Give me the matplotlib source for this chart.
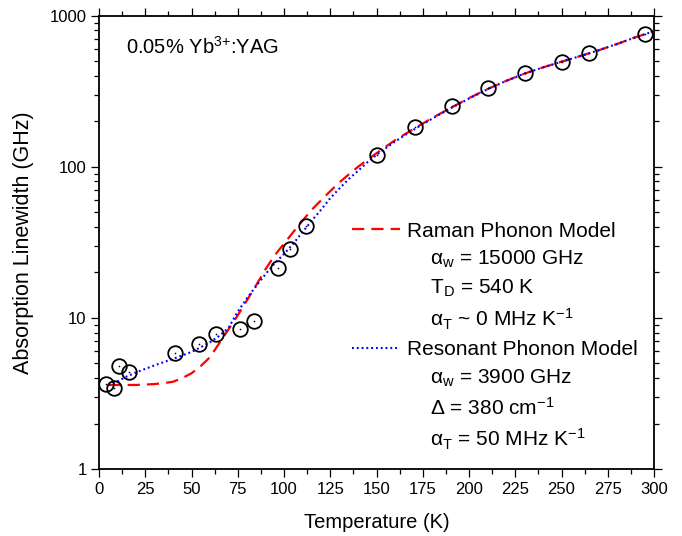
import matplotlib
matplotlib.use("Agg")
import matplotlib.pyplot as plt
from matplotlib.lines import Line2D
from matplotlib.ticker import MultipleLocator, LogLocator, NullFormatter, FixedLocator

plt.rcParams['font.family'] = ['Liberation Sans', 'DejaVu Sans']
plt.rcParams['mathtext.fontset'] = 'custom'
plt.rcParams['mathtext.rm'] = 'Liberation Sans'
plt.rcParams['mathtext.it'] = 'Liberation Sans:italic'
plt.rcParams['mathtext.bf'] = 'Liberation Sans:bold'

# measured data
temp_data = [4, 8, 11, 16, 41, 54, 63, 76, 84, 97, 103, 112, 150, 171, 191, 210, 230, 250, 265, 295]
width_data = [3.64, 3.42, 4.83, 4.40, 5.83, 6.75, 7.86, 8.44, 9.54, 21.3, 28.4, 40.6, 119.7, 182.5,
              252.7, 330, 420, 492, 569, 753]

# model curves
temp_model = [5, 10, 15, 20, 25, 30, 35, 40, 45, 50, 55, 60, 65, 70, 75, 80, 85, 90, 95, 100,
              105, 110, 115, 120, 125, 130, 135, 140, 145, 150, 160, 170, 180, 190, 200, 210,
              220, 230, 240, 250, 260, 270, 280, 290, 300]
raman_model = [3.6, 3.6, 3.6, 3.6, 3.62, 3.65, 3.7, 3.78, 4.0, 4.3, 4.8, 5.5, 6.8, 8.4, 10.4, 13.1,
               16.5, 21, 26, 31, 37, 44, 52, 60, 69, 79, 89, 100, 111, 123, 150, 178, 210, 245,
               285, 327, 370, 414, 455, 496, 540, 590, 650, 720, 790]
resonant_model = [3.6, 3.8, 4.1, 4.35, 4.6, 4.85, 5.1, 5.35, 5.65, 5.95, 6.4, 6.9, 7.6, 8.6, 11.0,
                  13.5, 16.3, 19.5, 23, 26.5, 31, 37, 44, 52, 62, 72, 83, 94, 107, 120, 147, 176,
                  208, 244, 283, 326, 370, 414, 455, 496, 540, 590, 650, 720, 790]

x_ticks = [0, 25, 50, 75, 100, 125, 150, 175, 200, 225, 250, 275, 300]
y_ticks = [1, 10, 100, 1000]
y_ticklabels = ['1', '10', '100', '1000']

legend_labels = ['Raman Phonon Model',
                 '    α$_\\mathregular{w}$ = 15000 GHz',
                 '    T$_\\mathregular{D}$ = 540 K',
                 '    α$_\\mathregular{T}$ ~ 0 MHz K$^\\mathregular{-1}$',
                 'Resonant Phonon Model',
                 '    α$_\\mathregular{w}$ = 3900 GHz',
                 '    Δ = 380 cm$^\\mathregular{-1}$',
                 '    α$_\\mathregular{T}$ = 50 MHz K$^\\mathregular{-1}$']

fig = plt.figure(figsize=(6.82, 5.36), dpi=100)
ax = fig.add_axes([0.1452, 0.125, 0.8138, 0.8457])

ax.plot(temp_model, raman_model, color='#ff0000', lw=1.6, ls=(0, (5.5, 3.2)), zorder=3)
ax.plot(temp_model, resonant_model, color='#0000ff', lw=1.5, ls=(0, (0.9, 1.4)), zorder=3)
ax.plot(temp_data, width_data, ls='none', marker='o', ms=10.5, mfc='none', mec='black', mew=1.3, zorder=4)
ax.plot(temp_data, width_data, ls='none', marker='o', ms=1.2, mfc='black', mec='black', mew=0, zorder=4)

ax.set_yscale('log')
ax.set_xlim(0, 300)
ax.set_ylim(1, 1000)
ax.xaxis.set_major_locator(FixedLocator(x_ticks))
ax.xaxis.set_minor_locator(MultipleLocator(12.5))
ax.yaxis.set_major_locator(FixedLocator(y_ticks))
ax.set_yticklabels(y_ticklabels)
ax.yaxis.set_minor_locator(LogLocator(base=10, subs=range(2, 10), numticks=20))
ax.yaxis.set_minor_formatter(NullFormatter())

ax.tick_params(which='both', direction='out', top=True, right=True, labelsize=12, width=0.9)
ax.tick_params(which='major', length=6, pad=3)
ax.tick_params(which='minor', length=3.5)
for s in ax.spines.values():
    s.set_linewidth(1.3)

ax.set_xlabel('Temperature (K)', fontsize=14.5)
ax.set_ylabel('Absorption Linewidth (GHz)', fontsize=15.5)
ax.xaxis.label.set_va('center')
ax.yaxis.label.set_va('center')
ax.xaxis.set_label_coords(0.5, -0.117)
ax.yaxis.set_label_coords(-0.136, 0.5)

ax.text(0.049, 0.931, '0.05% Yb$^\\mathregular{3{+}}$:YAG', transform=ax.transAxes,
        fontsize=14.5, va='center', ha='left')

handles = [Line2D([], [], color='#ff0000', lw=1.6, ls=(0, (5.5, 3.2))),
           Line2D([], [], color='none'), Line2D([], [], color='none'), Line2D([], [], color='none'),
           Line2D([], [], color='#0000ff', lw=1.5, ls=(0, (0.9, 1.4))),
           Line2D([], [], color='none'), Line2D([], [], color='none'), Line2D([], [], color='none')]
ax.legend(handles, legend_labels, loc='upper left', bbox_to_anchor=(0.456, 0.546),
          frameon=False, fontsize=15, borderpad=0, borderaxespad=0, handlelength=2.3,
          handletextpad=0.33, labelspacing=0.385)

fig.savefig('out.png', dpi=100)
